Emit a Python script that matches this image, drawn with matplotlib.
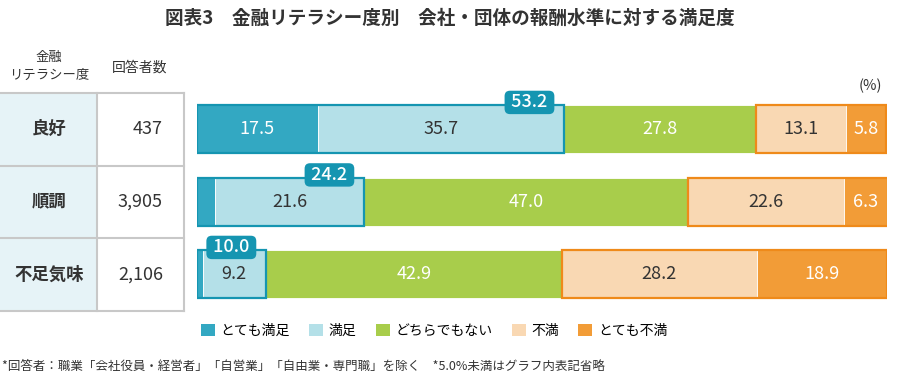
import matplotlib
matplotlib.use("Agg")
import matplotlib.pyplot as plt
from matplotlib.patches import Rectangle, Patch

plt.rcParams["font.family"] = ["Noto Sans CJK JP", "DejaVu Sans"]

groups = ["良好", "順調", "不足気味"]
counts = ["437", "3,905", "2,106"]
categories = ["とても満足", "満足", "どちらでもない", "不満", "とても不満"]
very_sat = [17.5, 2.6, 0.8]
sat = [35.7, 21.6, 9.2]
neutral = [27.8, 47.0, 42.9]
dissat = [13.1, 22.6, 28.2]
very_dissat = [5.8, 6.3, 18.9]
sat_total = [53.2, 24.2, 10.0]

colors = ["#33a8c2", "#b4e0e8", "#a8cd4b", "#f9d8b3", "#f29c37"]
text_colors = ["white", "#333333", "white", "#333333", "white"]
teal = "#1595b1"
orange = "#ef8a1a"

W, H = 900, 378
fig = plt.figure(figsize=(9, 3.78), dpi=100)


def box(x0, y0, x1, y1):
    # pixel box (top-left origin) -> figure fraction
    return [x0 / W, 1 - y1 / H, (x1 - x0) / W, (y1 - y0) / H]


top, bot = 93, 310.5
ax = fig.add_axes(box(197, top, 887, bot))
tab = fig.add_axes(box(0, top, 185, bot))

series = [very_sat, sat, neutral, dissat, very_dissat]
ypos = list(range(len(groups)))
bh = 0.66
left = [0.0] * len(groups)
for k, vals in enumerate(series):
    ax.barh(ypos, vals, left=left, height=bh, color=colors[k],
            edgecolor="white", linewidth=0.6, label=categories[k], zorder=2)
    for i, v in enumerate(vals):
        if v >= 5:
            ax.text(left[i] + v / 2, i, f"{v:.1f}", ha="center", va="center",
                    fontsize=13, color=text_colors[k], zorder=5)
    left = [l + v for l, v in zip(left, vals)]

for i in ypos:
    s = very_sat[i] + sat[i]
    ax.add_patch(Rectangle((0, i - bh / 2), s, bh, fill=False, edgecolor=teal,
                           linewidth=1.6, zorder=3))
    d0 = s + neutral[i]
    ax.add_patch(Rectangle((d0, i - bh / 2), dissat[i] + very_dissat[i], bh,
                           fill=False, edgecolor=orange, linewidth=1.6, zorder=3))
    ax.text(s - 1.8, i - bh / 2 - 0.04, f" {sat_total[i]:.1f} ", ha="right",
            va="center", fontsize=13, fontweight="medium", color="white", zorder=6,
            bbox=dict(boxstyle="round,pad=0.15,rounding_size=0.3", fc=teal, ec="none"))

ax.set_xlim(0, 100)
ax.set_ylim(2.5, -0.5)
ax.axis("off")

# left table
tab.set_xlim(0, 185)
tab.set_ylim(2.5, -0.5)
tab.axis("off")
tab.add_patch(Rectangle((0, -0.5), 97, 3, facecolor="#e6f3f7", edgecolor="none"))
lc = "#c8c8c8"
for yb in [-0.5, 0.5, 1.5, 2.5]:
    tab.plot([0, 184], [yb, yb], color=lc, lw=1.5, clip_on=False)
for xb in [97, 184]:
    tab.plot([xb, xb], [-0.5, 2.5], color=lc, lw=1.5, clip_on=False)
for i, (g, c) in enumerate(zip(groups, counts)):
    tab.text(49, i, g, ha="center", va="center", fontsize=12.5, fontweight="bold",
             color="#333333")
    tab.text(163, i, c, ha="right", va="center", fontsize=13, color="#333333")

fig.text(450 / W, 1 - 18 / H, "図表3　金融リテラシー度別　会社・団体の報酬水準に対する満足度",
         ha="center", va="center", fontsize=13.4, fontweight="bold", color="#333333")
fig.text(49 / W, 1 - 66 / H, "金融\nリテラシー度", ha="center", va="center",
         fontsize=9.6, color="#333333", linespacing=1.4)
fig.text(140 / W, 1 - 68 / H, "回答者数", ha="center", va="center", fontsize=10,
         color="#333333")
fig.text(870 / W, 1 - 86 / H, "(%)", ha="center", va="center", fontsize=10.5,
         color="#333333")

handles = [Patch(facecolor=c, edgecolor="none") for c in colors]
fig.legend(handles, categories, loc="center", bbox_to_anchor=(434 / W, 1 - 331 / H),
           ncol=5, frameon=False, fontsize=10, handlelength=1.0, handleheight=1.0,
           handletextpad=0.4, columnspacing=1.4)

fig.text(2 / W, 1 - 366 / H,
         "*回答者：職業「会社役員・経営者」「自営業」「自由業・専門職」を除く　*5.0%未満はグラフ内表記省略",
         ha="left", va="center", fontsize=9, color="#333333")

fig.savefig("out.png", dpi=100)
